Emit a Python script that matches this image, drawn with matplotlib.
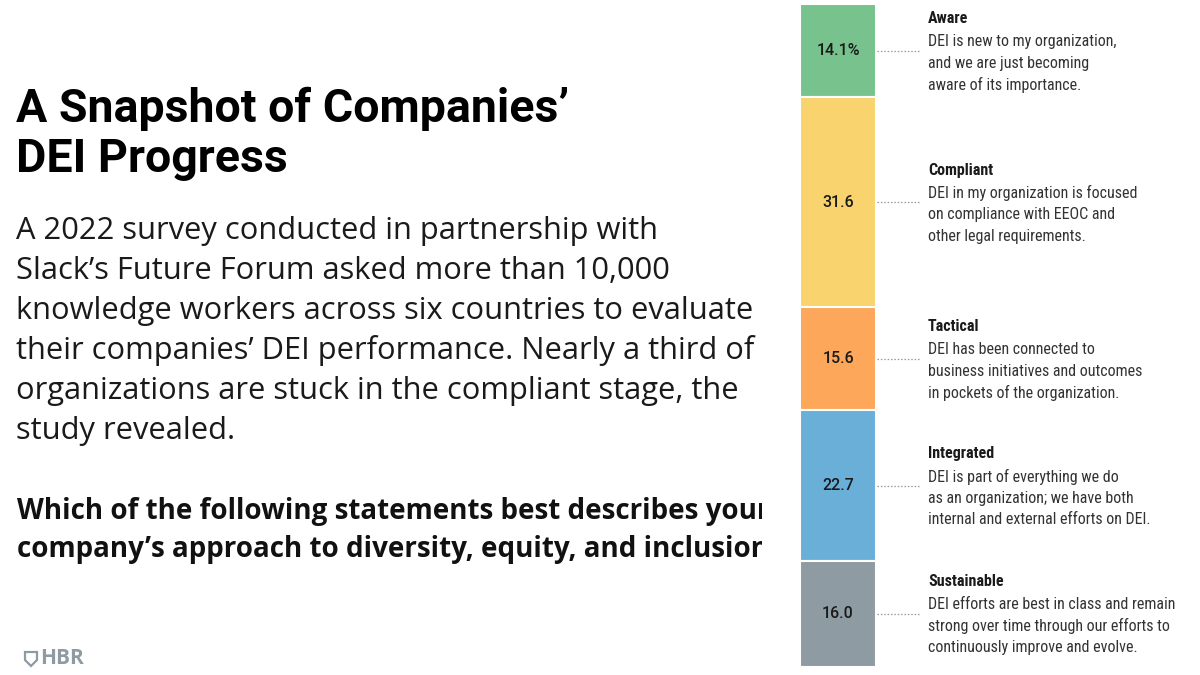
import matplotlib
matplotlib.use("Agg")
import matplotlib.pyplot as plt
from matplotlib.transforms import blended_transform_factory
from matplotlib.patches import Polygon

# data (top to bottom)
stages = ["Aware", "Compliant", "Tactical", "Integrated", "Sustainable"]
shares = [14.1, 31.6, 15.6, 22.7, 16.0]
share_labels = ["14.1%", "31.6", "15.6", "22.7", "16.0"]
descriptions = [
    ["DEI is new to my organization,", "and we are just becoming", "aware of its importance."],
    ["DEI in my organization is focused", "on compliance with EEOC and", "other legal requirements."],
    ["DEI has been connected to", "business initiatives and outcomes", "in pockets of the organization."],
    ["DEI is part of everything we do", "as an organization; we have both", "internal and external efforts on DEI."],
    ["DEI efforts are best in class and remain", "strong over time through our efforts to", "continuously improve and evolve."],
]
colors = ["#77C28D", "#F9D36E", "#FCA75A", "#6AAFD8", "#8E9BA3"]

title_lines = ["A Snapshot of Companies’", "DEI Progress"]
body_lines = [
    "A 2022 survey conducted in partnership with",
    "Slack’s Future Forum asked more than 10,000",
    "knowledge workers across six countries to evaluate",
    "their companies’ DEI performance. Nearly a third of",
    "organizations are stuck in the compliant stage, the",
    "study revealed.",
]
question_lines = [
    "Which of the following statements best describes your",
    "company’s approach to diversity, equity, and inclusion?",
]

W, H = 1200, 675
fig = plt.figure(figsize=(12, 6.75), dpi=100)
fig.patch.set_facecolor("white")

narrow = ["Liberation Sans Narrow", "Roboto Condensed", "Roboto", "DejaVu Sans"]
wide = ["Open Sans", "DejaVu Sans"]

# left text block, clipped at the right edge like the original slide
tx = fig.add_axes([0, 0, 762 / W, 1])
tx.set_xlim(0, 762)
tx.set_ylim(H, 0)
tx.axis("off")
for i, line in enumerate(title_lines):
    tx.text(16, 122 + i * 50, line, fontsize=33.5, fontweight="bold",
            family=["Roboto", "DejaVu Sans"], color="#000000", va="baseline", clip_on=True)
for i, line in enumerate(body_lines):
    tx.text(16, 231 + i * 40, line, fontsize=22.2, family=wide,
            color="#1a1a1a", va="center", clip_on=True)
for i, line in enumerate(question_lines):
    tx.text(17, 512 + i * 38, line, fontsize=20, fontweight="bold",
            family=wide, color="#111111", va="center", clip_on=True)

# stacked bar
ax = fig.add_axes([800 / W, 8 / H, 76 / W, 663 / H])
bottoms = [sum(shares[:i]) for i in range(len(shares))]
ax.bar([0] * len(shares), shares, bottom=bottoms, width=1.0, color=colors,
       edgecolor="white", linewidth=1.5)
ax.set_xlim(-0.5, 0.5)
ax.set_ylim(sum(shares), 0)
ax.axis("off")

trans = blended_transform_factory(fig.transFigure, ax.transData)
for stage, val, lab, desc, b in zip(stages, shares, share_labels, descriptions, bottoms):
    mid = b + val / 2
    ax.text(0, mid, lab, ha="center", va="center", fontsize=11.5, fontweight="medium",
            family=["Roboto", "DejaVu Sans"], color="#1a1a1a")
    ax.plot([877 / W, 920 / W], [mid, mid], transform=trans, clip_on=False,
            color="#999999", linestyle=(0, (1.2, 1.5)), linewidth=0.9)
    ax.annotate(stage, xy=(928 / W, mid), xycoords=trans, xytext=(0, 32),
                textcoords="offset pixels", va="center", ha="left",
                fontsize=11.5, fontweight="bold", family=narrow, color="#1a1a1a")
    for j, line in enumerate(desc):
        ax.annotate(line, xy=(928 / W, mid), xycoords=trans, xytext=(0, 9 - 21.5 * j),
                    textcoords="offset pixels", va="center", ha="left",
                    fontsize=11.5, family=narrow, color="#333333")

# HBR logo
shield = Polygon([(25 / W, 1 - 652 / H), (37 / W, 1 - 652 / H), (37 / W, 1 - 660 / H),
                  (31 / W, 1 - 666 / H), (25 / W, 1 - 660 / H)],
                 closed=True, transform=fig.transFigure, facecolor="none",
                 edgecolor="#8E9BA3", linewidth=1.6)
fig.add_artist(shield)
fig.text(40 / W, 1 - 659 / H, "HBR", fontsize=15, fontweight="bold",
         family=wide, color="#8E9BA3", va="center")

fig.savefig("out.png", dpi=100)
